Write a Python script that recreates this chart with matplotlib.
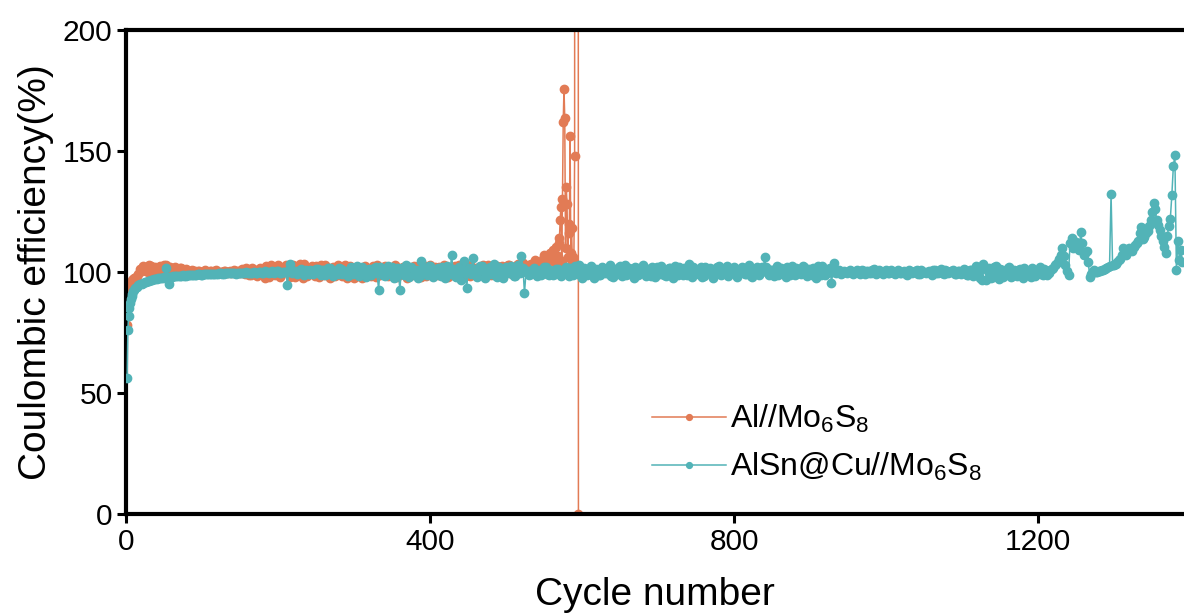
import numpy as np
import matplotlib
matplotlib.use("Agg")
import matplotlib.pyplot as plt

plt.rcParams['font.family'] = ['Liberation Sans', 'DejaVu Sans']
plt.rcParams['mathtext.fontset'] = 'custom'
plt.rcParams['mathtext.rm'] = 'Liberation Sans'
plt.rcParams['mathtext.it'] = 'Liberation Sans'

# ---------------- data ----------------
label_al = r'Al//Mo$_6$S$_8$'
label_alsn = r'AlSn@Cu//Mo$_6$S$_8$'

# Al//Mo6S8 : first cycles
al_first_cycles = [1, 2, 3, 4, 5, 6, 7, 8, 9, 10]
al_first_ce = [78.0, 86.0, 90.0, 92.5, 94.0, 95.2, 96.0, 96.8, 97.2, 97.6]
# Al//Mo6S8 : cycles 12, 16, ... 544
al_a_start, al_step = 12, 4
al_a_ce = [
    97.5, 99.0, 100.5, 101.8, 100.2, 102.6, 101.0, 99.8, 102.3, 100.7,
    103.0, 101.2, 99.6, 102.0, 100.4, 101.5, 99.9, 100.8, 100.1, 100.6,
    99.8, 100.4, 100.0, 100.7, 99.6, 100.3, 100.5, 99.9, 100.2, 100.6,
    99.7, 100.4, 100.1, 99.8, 100.6, 101.3, 99.2, 101.0, 98.9, 100.8,
    98.4, 101.6, 99.0, 102.4, 97.8, 101.9, 98.6, 103.0, 99.4, 100.6,
    101.8, 98.0, 102.7, 99.2, 103.2, 97.6, 101.4, 100.0, 102.5, 98.3,
    100.9, 103.1, 98.9, 101.7, 97.4, 102.2, 99.6, 101.0, 98.2, 102.8,
    99.1, 101.5, 97.7, 102.0, 100.3, 98.6, 101.8, 99.4, 102.4, 98.0,
    101.2, 99.8, 102.6, 98.4, 100.7, 101.9, 97.9, 100.2, 102.1, 99.3,
    101.6, 98.7, 100.9, 102.3, 98.1, 101.0, 99.5, 102.7, 98.5, 100.6,
    102.0, 99.0, 101.4, 97.8, 100.8, 102.5, 98.6, 101.1, 99.7, 102.9,
    98.3, 101.3, 100.1, 102.2, 99.0, 101.7, 103.0, 98.8, 100.5, 102.4,
    99.6, 101.9, 100.3, 102.8, 99.2, 101.0, 103.4, 100.2, 102.0, 101.1,
    103.5, 101.6, 104.2, 102.5,
]
# Al//Mo6S8 : cycles 14, 18, ... 542
al_b_start = 14
al_b_ce = [
    98.5, 101.2, 102.4, 100.6, 103.1, 99.9, 102.0, 101.4, 100.1, 102.8,
    100.3, 102.2, 101.0, 99.5, 101.8, 100.2, 101.1, 99.6, 100.9, 100.3,
    100.5, 99.7, 100.6, 100.1, 100.4, 99.8, 100.7, 100.2, 99.9, 100.5,
    100.2, 99.6, 100.8, 100.3, 99.5, 100.9, 101.7, 98.8, 101.5, 99.2,
    101.3, 99.6, 97.7, 101.1, 102.8, 99.3, 102.2, 98.1, 101.6, 102.9,
    99.0, 101.2, 97.9, 102.1, 100.6, 103.4, 98.4, 101.8, 99.5, 102.6,
    98.1, 101.4, 102.9, 99.7, 101.2, 98.3, 103.0, 100.4, 101.9, 97.6,
    102.6, 100.0, 98.9, 101.7, 97.6, 102.4, 100.6, 98.2, 101.3, 102.7,
    98.6, 102.2, 99.7, 101.5, 98.2, 102.8, 100.9, 99.1, 101.4, 97.7,
    100.4, 102.5, 99.0, 101.1, 102.8, 98.3, 101.9, 100.0, 102.2, 98.9,
    100.6, 102.7, 98.8, 101.8, 99.4, 100.9, 103.0, 99.2, 102.0, 98.6,
    102.5, 99.9, 101.5, 98.7, 102.9, 100.4, 99.3, 102.1, 101.4, 99.8,
    102.6, 100.0, 103.1, 101.0, 99.9, 102.7, 100.8, 103.6, 101.5, 102.9,
    102.2, 104.8, 103.4,
]
# Al//Mo6S8 : failure region
al_end_cycles = [546, 548, 550, 552, 554, 556, 558, 560, 562, 564, 566, 568,
                 569, 570, 571, 572, 573, 574, 575, 576, 577, 578, 579, 580,
                 581, 582, 583, 584, 585, 586, 587, 588, 589, 590, 591, 594, 595]
al_end_ce = [103.0, 105.5, 107.0, 103.8, 106.2, 104.5, 108.0, 105.0, 109.0, 104.0,
             110.5, 106.5, 112.0, 114.0, 121.5, 127.0, 104.5, 130.0, 162.0, 175.7,
             163.6, 110.0, 135.0, 128.0, 106.0, 120.0, 116.0, 156.0, 108.0, 118.0,
             104.0, 106.0, 104.0, 148.0, 1500.0, 1200.0, 0.0]

# AlSn@Cu//Mo6S8 : first cycles
alsn_first_cycles = [1, 2, 3, 4, 5, 6, 7, 8, 9, 10]
alsn_first_ce = [56.0, 76.0, 82.0, 85.0, 87.0, 89.0, 90.0, 91.0, 92.0, 92.5]
# AlSn@Cu//Mo6S8 : cycles 12, 16, ... 1364
alsn_a_start, alsn_step = 12, 4
alsn_a_ce = [
    93.5, 94.5, 95.2, 95.8, 96.2, 96.6, 97.0, 97.2, 97.5, 97.7,
    101.8, 95.0, 98.0, 98.2, 98.3, 98.5, 98.4, 98.6, 98.7, 98.8,
    98.9, 99.0, 98.9, 99.1, 99.2, 99.0, 99.3, 99.2, 99.4, 99.3,
    99.5, 99.4, 99.6, 99.3, 99.5, 99.7, 99.4, 99.6, 99.5, 99.8,
    99.6, 99.9, 99.7, 100.2, 99.5, 100.4, 99.8, 100.6, 99.4, 100.1,
    94.8, 103.5, 100.3, 99.2, 100.8, 99.6, 101.0, 99.0, 100.5, 99.8,
    101.2, 98.8, 100.9, 99.3, 101.5, 98.5, 100.2, 101.8, 99.0, 100.6,
    98.2, 101.9, 99.5, 102.3, 98.7, 100.8, 97.9, 101.4, 99.8, 102.0,
    92.6, 101.0, 98.4, 102.5, 99.2, 97.6, 101.7, 92.6, 100.3, 103.0,
    98.0, 101.3, 99.6, 97.4, 104.7, 100.5, 98.9, 102.4, 97.8, 100.9,
    99.4, 102.1, 97.5, 101.6, 107.0, 98.3, 100.7, 96.9, 104.7, 93.4,
    101.8, 105.8, 98.6, 100.2, 102.6, 97.7, 101.1, 99.3, 103.2, 98.1,
    100.8, 97.6, 102.2, 99.5, 101.4, 98.4, 103.0, 106.7, 91.2, 100.6,
    99.0, 101.5, 98.2, 100.9, 99.6, 102.0, 98.8, 100.4, 99.3, 101.2,
    98.5, 100.6, 99.8, 101.7, 98.9, 100.2, 102.8, 97.7, 101.3, 99.1,
    102.5, 97.4, 100.9, 98.6, 101.8, 99.4, 103.1, 97.9, 100.4, 101.9,
    98.2, 102.7, 99.0, 100.6, 97.5, 101.5, 99.8, 103.0, 98.4, 100.7,
    101.9, 97.8, 100.3, 102.4, 98.7, 99.9, 101.6, 97.6, 100.8, 102.2,
    98.9, 100.5, 103.3, 97.9, 101.2, 99.3, 102.0, 98.3, 100.7, 101.5,
    97.7, 100.1, 102.6, 99.0, 101.3, 98.5, 100.9, 102.1, 98.1, 100.4,
    101.8, 99.2, 102.9, 97.8, 100.6, 98.7, 101.9, 106.0, 99.5, 100.8,
    98.4, 102.3, 99.6, 101.0, 97.9, 100.5, 102.6, 98.8, 101.4, 99.1,
    102.0, 98.2, 100.7, 101.6, 97.6, 100.2, 102.4, 98.9, 101.1, 95.6,
    103.7, 100.0, 99.1, 100.6, 99.5, 100.9, 99.3, 100.4, 99.8, 100.7,
    99.2, 100.5, 99.7, 101.1, 99.4, 100.3, 99.0, 100.8, 99.6, 100.2,
    99.1, 100.9, 99.5, 100.4, 98.9, 100.6, 99.8, 101.0, 99.3, 100.1,
    99.7, 100.5, 98.8, 100.8, 99.4, 101.2, 99.1, 100.3, 99.9, 100.7,
    99.0, 100.4, 99.6, 101.0, 98.7, 100.9, 99.5, 102.2, 97.5, 103.4,
    96.8, 101.8, 98.0, 102.6, 97.3, 100.9, 98.6, 101.5, 97.9, 100.7,
    98.4, 101.3, 97.7, 100.2, 98.9, 101.6, 98.2, 100.8, 99.1, 101.4,
    98.6, 100.9, 101.8, 103.2, 105.5, 109.8, 103.0, 98.8, 114.0, 111.2,
    110.5, 116.4, 107.0, 108.8, 98.0, 100.5, 100.0, 100.3, 100.8, 101.3,
    102.0, 132.2, 103.0, 104.0, 105.5, 109.8, 107.0, 110.0, 108.5, 111.0,
    113.0, 118.5, 114.5, 117.0, 121.5, 128.4, 121.5, 117.4, 113.0,
]
# AlSn@Cu//Mo6S8 : cycles 14, 18, ... 1366
alsn_b_start = 14
alsn_b_ce = [
    94.0, 94.9, 95.5, 96.0, 96.4, 96.8, 97.1, 97.4, 97.6, 97.9,
    97.8, 98.1, 98.3, 98.2, 98.5, 98.6, 98.5, 98.8, 98.7, 98.9,
    99.0, 98.9, 99.1, 99.0, 99.3, 99.1, 99.2, 99.4, 99.3, 99.5,
    99.4, 99.6, 99.5, 99.7, 99.4, 99.6, 99.8, 99.5, 99.7, 99.6,
    100.1, 99.5, 100.3, 99.8, 100.0, 99.6, 100.5, 99.7, 100.2, 99.9,
    100.9, 99.4, 100.6, 99.9, 101.3, 98.9, 100.4, 100.7, 99.3, 101.1,
    99.6, 100.8, 98.9, 101.7, 99.4, 100.3, 99.0, 101.2, 100.5, 98.6,
    100.9, 99.3, 101.6, 98.4, 102.0, 99.7, 100.6, 98.8, 101.8, 99.6,
    101.9, 98.6, 100.8, 99.5, 102.2, 98.1, 100.4, 101.6, 98.9, 101.0,
    102.2, 99.0, 100.7, 98.3, 101.5, 99.8, 102.6, 98.6, 100.3, 101.8,
    98.2, 100.9, 102.4, 99.1, 101.3, 98.0, 102.0, 100.2, 99.4, 101.7,
    99.2, 101.4, 97.9, 102.3, 100.1, 98.9, 101.9, 100.6, 98.4, 102.0,
    98.9, 101.6, 99.8, 102.5, 98.2, 100.7, 99.4, 101.8, 100.0, 98.7,
    101.0, 99.4, 100.6, 98.7, 101.9, 99.2, 100.8, 98.9, 101.4, 100.0,
    99.7, 101.9, 98.3, 100.5, 102.3, 99.0, 100.9, 101.6, 98.6, 100.3,
    99.3, 101.2, 98.8, 102.0, 99.6, 100.7, 98.2, 101.4, 99.1, 102.6,
    100.5, 98.7, 101.8, 99.3, 102.2, 98.9, 100.4, 101.5, 99.7, 98.5,
    100.2, 102.1, 99.0, 100.9, 98.4, 101.7, 99.5, 102.3, 98.8, 100.5,
    101.7, 98.6, 100.1, 102.2, 99.4, 100.8, 98.1, 101.9, 99.6, 100.3,
    99.2, 101.9, 98.7, 100.6, 102.4, 99.8, 101.2, 98.6, 100.9, 102.0,
    99.0, 101.4, 98.3, 100.7, 102.1, 99.5, 100.3, 102.2, 98.7, 101.0,
    100.6, 98.9, 101.7, 99.4, 102.2, 98.6, 100.4, 101.5, 99.8, 102.4,
    99.3, 101.1, 98.7, 100.4, 102.3, 98.9, 100.9, 99.6, 101.8, 100.2,
    99.6, 100.8, 99.4, 100.2, 99.9, 100.6, 99.5, 100.9, 99.2, 100.3,
    100.6, 99.5, 100.9, 99.3, 100.7, 99.8, 100.5, 99.4, 100.8, 99.7,
    100.4, 99.6, 100.2, 99.3, 100.8, 99.5, 100.6, 99.2, 100.9, 99.8,
    100.2, 99.4, 100.7, 99.6, 100.3, 99.5, 100.9, 99.7, 100.4, 99.3,
    100.6, 99.2, 101.4, 98.6, 100.8, 98.4, 102.6, 100.0, 96.9, 101.6,
    100.4, 97.5, 102.1, 98.8, 101.2, 97.9, 100.3, 102.0, 98.5, 99.6,
    100.9, 98.6, 101.7, 99.5, 97.8, 100.6, 99.2, 101.9, 98.7, 100.0,
    99.7, 101.2, 102.8, 104.3, 107.0, 106.5, 100.5, 112.0, 110.0, 112.5,
    109.0, 112.0, 108.0, 104.0, 99.0, 100.8, 100.2, 100.6, 101.0, 101.8,
    102.4, 102.8, 103.5, 104.8, 107.0, 108.5, 108.8, 109.5, 110.5, 112.0,
    116.0, 113.5, 116.0, 119.0, 125.0, 126.0, 119.5, 115.0, 110.5,
]
# AlSn@Cu//Mo6S8 : last cycles
alsn_end_cycles = [1368, 1370, 1372, 1374, 1376, 1378, 1380, 1382, 1384, 1386, 1388, 1390]
alsn_end_ce = [107.7, 115.0, 119.0, 122.0, 131.8, 143.8, 148.3, 101.0, 113.0, 105.0, 109.0, 104.0]


def merge(first_x, first_y, a_start, a_y, b_start, b_y, step, end_x, end_y):
    x = np.concatenate([first_x,
                        a_start + step * np.arange(len(a_y)),
                        b_start + step * np.arange(len(b_y)),
                        end_x]).astype(float)
    y = np.concatenate([first_y, a_y, b_y, end_y])
    o = np.argsort(x, kind='stable')
    return x[o], y[o]


# Al: regular cycles sorted, failure region kept in recorded order
al_reg_x, al_reg_y = merge(al_first_cycles, al_first_ce, al_a_start, al_a_ce,
                           al_b_start, al_b_ce, al_step, [], [])
al_x = np.concatenate([al_reg_x, al_end_cycles])
al_y = np.concatenate([al_reg_y, al_end_ce])

alsn_x, alsn_y = merge(alsn_first_cycles, alsn_first_ce, alsn_a_start, alsn_a_ce,
                       alsn_b_start, alsn_b_ce, alsn_step, alsn_end_cycles, alsn_end_ce)

x_ticks = [0, 400, 800, 1200]
y_ticks = [0, 50, 100, 150, 200]

c_al = '#E27B55'
c_alsn = '#52B3B7'

# ---------------- figure ----------------
fig = plt.figure(figsize=(11.84, 6.14), dpi=100)
ax = fig.add_axes([0.1067, 0.1629, 0.8933, 0.7882])

ax.plot(al_x, al_y, '-o', color=c_al, lw=1.1, ms=6, mec=c_al, label=label_al, zorder=2)
ax.plot(alsn_x, alsn_y, '-o', color=c_alsn, lw=1.1, ms=6, mec=c_alsn, label=label_alsn, zorder=3)

ax.set_xlim(0, 1392)
ax.set_ylim(0, 200)
ax.set_xticks(x_ticks)
ax.set_yticks(y_ticks)
ax.set_xlabel('Cycle number', fontsize=28, labelpad=15)
ax.set_ylabel('Coulombic efficiency(%)', fontsize=28, labelpad=6)
ax.tick_params(axis='both', labelsize=21.5, width=2.2, length=6.5, direction='out')
for s in ['left', 'bottom', 'top']:
    ax.spines[s].set_linewidth(3)
ax.spines['right'].set_visible(False)

leg = ax.legend(loc='lower left', bbox_to_anchor=(0.47, 0.004), frameon=False,
                fontsize=23, markerscale=0.7, handlelength=2.3, handletextpad=0.15,
                labelspacing=0.5)

fig.savefig('out.png', dpi=100)
